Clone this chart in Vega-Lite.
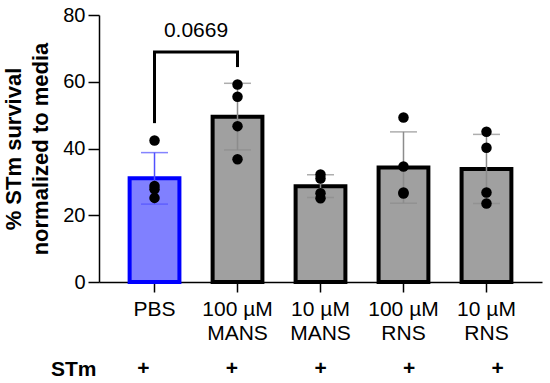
{
  "$schema": "https://vega.github.io/schema/vega-lite/v6.json",
  "padding": {"left": 2, "top": 5, "right": 5, "bottom": 5},
  "background": "white",
  "datasets": {
    "points": [
      {"group": "PBS", "value": 42.4},
      {"group": "PBS", "value": 28.8},
      {"group": "PBS", "value": 27.8},
      {"group": "PBS", "value": 25.2},
      {"group": "100 µM MANS", "value": 59.2},
      {"group": "100 µM MANS", "value": 55.5},
      {"group": "100 µM MANS", "value": 46.7},
      {"group": "100 µM MANS", "value": 36.8},
      {"group": "10 µM MANS", "value": 31.0},
      {"group": "10 µM MANS", "value": 32.2},
      {"group": "10 µM MANS", "value": 26.6},
      {"group": "10 µM MANS", "value": 25.1},
      {"group": "100 µM RNS", "value": 49.3},
      {"group": "100 µM RNS", "value": 34.6},
      {"group": "100 µM RNS", "value": 26.5},
      {"group": "100 µM RNS", "value": 26.8},
      {"group": "10 µM RNS", "value": 45.0},
      {"group": "10 µM RNS", "value": 40.2},
      {"group": "10 µM RNS", "value": 26.8},
      {"group": "10 µM RNS", "value": 23.5}
    ],
    "legs": [
      {"group": "PBS", "y": 47.6, "y2": 68.9},
      {"group": "100 µM MANS", "y": 64.4, "y2": 68.9}
    ],
    "bridge": [
      {"group": "PBS", "group2": "100 µM MANS", "y": 68.9}
    ],
    "pval": [
      {"group": "PBS", "y": 75.1, "label": "0.0669"}
    ],
    "stm": [
      {"group": "PBS", "factor": "STm", "present": "+"},
      {"group": "100 µM MANS", "factor": "STm", "present": "+"},
      {"group": "10 µM MANS", "factor": "STm", "present": "+"},
      {"group": "100 µM RNS", "factor": "STm", "present": "+"},
      {"group": "10 µM RNS", "factor": "STm", "present": "+"}
    ]
  },
  "spacing": 15,
  "vconcat": [
    {
      "width": 443,
      "height": 267,
      "layer": [
        {
          "data": {"name": "points"},
          "mark": {"type": "bar", "strokeWidth": 4},
          "encoding": {
            "x": {"field": "group", "type": "nominal"},
            "y": {"aggregate": "mean", "field": "value", "type": "quantitative"},
            "fill": {"field": "group", "type": "nominal", "legend": null,
              "scale": {"domain": ["PBS", "100 µM MANS", "10 µM MANS", "100 µM RNS", "10 µM RNS"],
                        "range": ["#8080ff", "#a0a0a0", "#a0a0a0", "#a0a0a0", "#a0a0a0"]}},
            "stroke": {"field": "group", "type": "nominal", "legend": null,
              "scale": {"domain": ["PBS", "100 µM MANS", "10 µM MANS", "100 µM RNS", "10 µM RNS"],
                        "range": ["#0000ff", "#000000", "#000000", "#000000", "#000000"]}}
          }
        },
        {
          "data": {"name": "points"},
          "mark": {"type": "errorbar", "extent": "stdev", "thickness": 1.5, "ticks": {"size": 27, "thickness": 1.5}},
          "encoding": {
            "x": {"field": "group", "type": "nominal"},
            "y": {"field": "value", "type": "quantitative"},
            "color": {"field": "group", "type": "nominal", "legend": null,
              "scale": {"domain": ["PBS", "100 µM MANS", "10 µM MANS", "100 µM RNS", "10 µM RNS"],
                        "range": ["#5050ff", "#8c8c8c", "#8c8c8c", "#8c8c8c", "#8c8c8c"]}}
          }
        },
        {
          "data": {"name": "points"},
          "mark": {"type": "point", "filled": true, "color": "black", "opacity": 1, "size": 110},
          "encoding": {
            "x": {"field": "group", "type": "nominal"},
            "y": {"field": "value", "type": "quantitative"}
          }
        },
        {
          "data": {"name": "legs"},
          "mark": {"type": "rule", "color": "black", "strokeWidth": 3},
          "encoding": {
            "x": {"field": "group", "type": "nominal"},
            "y": {"field": "y", "type": "quantitative"},
            "y2": {"field": "y2"}
          }
        },
        {
          "data": {"name": "bridge"},
          "mark": {"type": "rule", "color": "black", "strokeWidth": 3, "strokeCap": "square"},
          "encoding": {
            "x": {"field": "group", "type": "nominal"},
            "x2": {"field": "group2"},
            "y": {"field": "y", "type": "quantitative"}
          }
        },
        {
          "data": {"name": "pval"},
          "mark": {"type": "text", "fontSize": 21, "font": "Liberation Sans", "color": "black", "dx": 41.5, "baseline": "middle", "align": "center"},
          "encoding": {
            "x": {"field": "group", "type": "nominal"},
            "y": {"field": "y", "type": "quantitative"},
            "text": {"field": "label"}
          }
        }
      ],
      "encoding": {
        "x": {"field": "group", "type": "nominal",
          "sort": ["PBS", "100 µM MANS", "10 µM MANS", "100 µM RNS", "10 µM RNS"],
          "scale": {"domain": ["PBS", "100 µM MANS", "10 µM MANS", "100 µM RNS", "10 µM RNS"], "paddingInner": 0.4, "paddingOuter": 0.369},
          "axis": {"title": null, "labelAngle": 0, "tickSize": 10, "labelPadding": 6, "labelLineHeight": 24, "labelFontSize": 21,
            "labelExpr": "split(replace(datum.label, 'µM ', 'µM|'), '|')"}
        },
        "y": {
          "type": "quantitative",
          "scale": {"domain": [0, 80], "nice": false},
          "axis": {"title": ["% STm survival", "normalized to media"], "values": [0, 20, 40, 60, 80],
            "tickSize": 11, "labelPadding": 3, "titlePadding": 10, "titleLineHeight": 27, "titleFontSize": 22, "grid": false}
        }
      }
    },
    {
      "width": 443,
      "height": 20,
      "data": {"name": "stm"},
      "mark": {"type": "text", "fontWeight": "bold", "fontSize": 21, "font": "Liberation Sans", "color": "black", "baseline": "middle"},
      "encoding": {
        "x": {"field": "group", "type": "nominal",
          "sort": ["PBS", "100 µM MANS", "10 µM MANS", "100 µM RNS", "10 µM RNS"],
          "scale": {"domain": ["PBS", "100 µM MANS", "10 µM MANS", "100 µM RNS", "10 µM RNS"], "paddingInner": 0.4, "paddingOuter": 0.369},
          "axis": null},
        "y": {"field": "factor", "type": "nominal",
          "axis": {"title": null, "domain": false, "ticks": false, "labelFontWeight": "bold", "labelFontSize": 21, "labelPadding": 3}},
        "text": {"field": "present"}
      }
    }
  ],
  "config": {
    "view": {"stroke": null},
    "font": "Liberation Sans",
    "axis": {
      "labelFont": "Liberation Sans", "titleFont": "Liberation Sans",
      "labelFontSize": 20, "titleFontSize": 20, "titleFontWeight": "bold",
      "labelColor": "black", "titleColor": "black",
      "domainColor": "black", "tickColor": "black", "domainWidth": 1.5, "tickWidth": 1.5,
      "grid": false
    }
  }
}
